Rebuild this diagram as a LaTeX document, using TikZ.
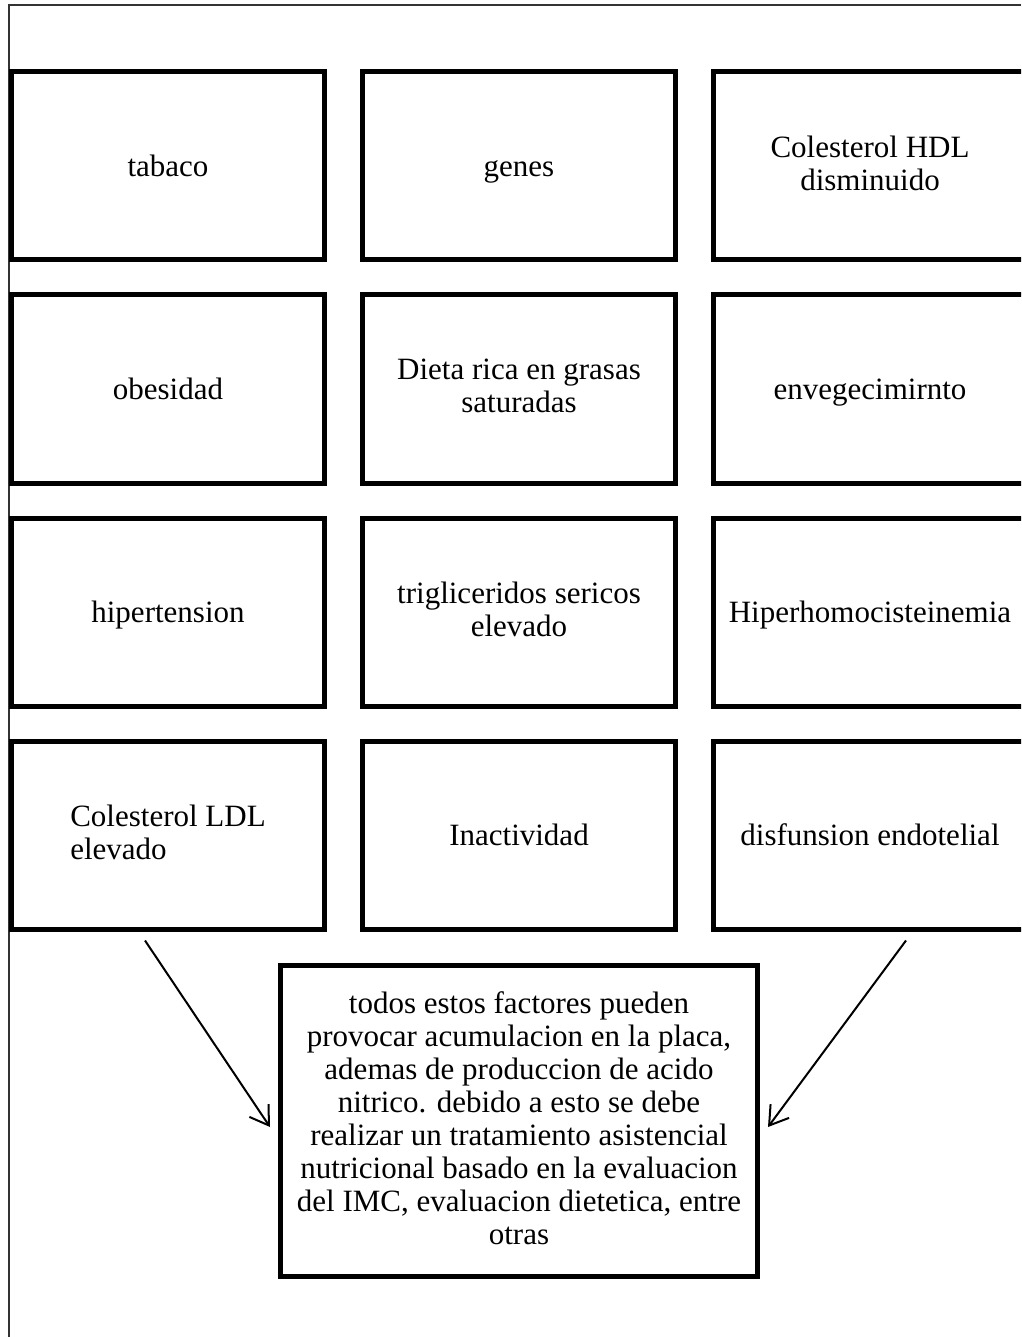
\documentclass[tikz,border=0pt]{standalone}
\usepackage{fontspec}
\setmainfont{Liberation Serif}
\usetikzlibrary{arrows.meta,positioning}
\newcommand{\boxstrut}{\rule[-6pt]{0pt}{33pt}}

\begin{document}
\begin{tikzpicture}[
        x=1pt, y=-1pt,
        factor/.style={draw, line width=5pt, minimum width=313pt, minimum height=188pt, inner sep=0pt, align=center, font=\fontsize{31}{33}\selectfont, execute at begin node=\boxstrut, execute at end node=\boxstrut},
        result/.style={draw, line width=5pt, minimum width=477pt, minimum height=311pt, inner sep=0pt, align=center, font=\fontsize{31}{33}\selectfont, execute at begin node=\boxstrut, execute at end node=\boxstrut},
        arrow/.style={-{Straight Barb[length=18pt,width=23pt]}, line width=2pt}
    ]
        \useasboundingbox (0,0) rectangle (1021,1337);
        \clip (0,0) rectangle (1021,1337);

        % Page frame
        \draw[line width=1.4pt, black!80] (9,1337) -- (9,5) -- (1021,5);

        % Row 1
        \node[factor] (tabaco) at (168,166) {tabaco};
        \node[factor] (genes) at (519,166) {genes};
        \node[factor] (hdl) at (870,166) {Colesterol HDL\\disminuido};

        % Row 2
        \node[factor] (obes) at (168,389) {obesidad};
        \node[factor] (dieta) at (519,389) {Dieta rica en grasas\\saturadas};
        \node[factor] (enve) at (870,389) {envegecimirnto};

        % Row 3
        \node[factor] (hiper) at (168,612) {hipertension};
        \node[factor] (trig) at (519,612) {trigliceridos sericos\\elevado};
        \node[factor] (homo) at (870,612) {Hiperhomocisteinemia};

        % Row 4
        \node[factor, align=left] (ldl) at (168,835) {Colesterol LDL\\elevado};
        \node[factor] (inac) at (519,835) {Inactividad};
        \node[factor] (disf) at (870,835) {disfunsion endotelial};

        % Conclusion
        \node[result] (res) at (519,1121) {
            todos estos factores pueden\\
            provocar acumulacion en la placa,\\
            ademas de produccion de acido\\
            nitrico. debido a esto se debe\\
            realizar un tratamiento asistencial\\
            nutricional basado en la evaluacion\\
            del IMC, evaluacion dietetica, entre\\
            otras
        };

        % Arrows
        \draw[arrow] ([xshift=-23pt,yshift=-9pt]ldl.south) -- ([xshift=-8pt,yshift=-6pt]res.west);
        \draw[arrow] ([xshift=36pt,yshift=-9pt]disf.south) -- ([xshift=8pt,yshift=-6pt]res.east);
    \end{tikzpicture}
\end{document}
